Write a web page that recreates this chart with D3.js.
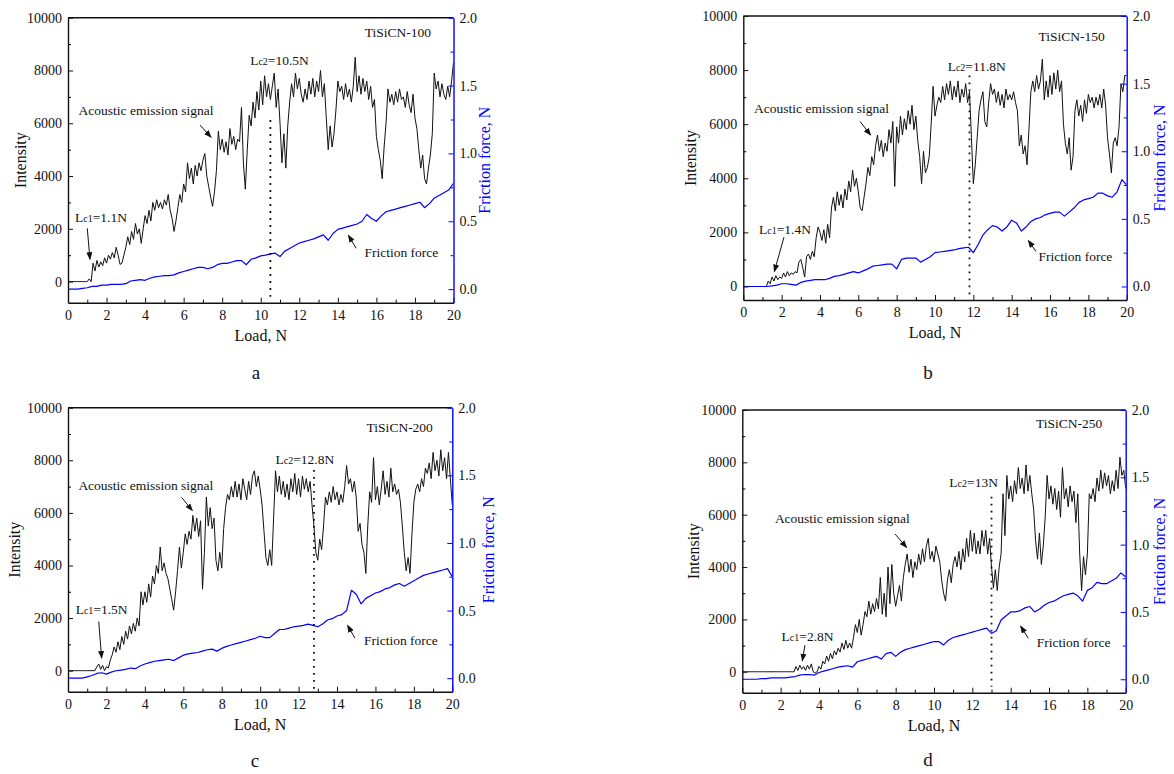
<!DOCTYPE html>
<html>
<head>
<meta charset="utf-8">
<script src="https://cdn.jsdelivr.net/npm/d3@7"></script>
<style>
body { margin: 0; background: #fff; }
svg text { font-family: "Liberation Serif", "Times New Roman", serif; fill: #111; }
</style>
</head>
<body>
<script>
// coating names, panel letters, critical loads
var panelNames = ['TiSiCN-100', 'TiSiCN-150', 'TiSiCN-200', 'TiSiCN-250']
var panelLetters = ['a', 'b', 'c', 'd']
var lc1Values = [1.1, 1.4, 1.5, 2.8]
var lc2Values = [10.5, 11.8, 12.8, 13]
var intensityMin = [-800, -500, -800, -800]

var loadTicks = [0, 2, 4, 6, 8, 10, 12, 14, 16, 18, 20]
var loadMinor = [1, 3, 5, 7, 9, 11, 13, 15, 17, 19]
var intensityTicks = [0, 2000, 4000, 6000, 8000, 10000]
var intensityMinor = [1000, 3000, 5000, 7000, 9000]
var frictionTicks = [0, 0.5, 1.0, 1.5, 2.0]
var frictionMinor = [0.25, 0.75, 1.25, 1.75]

// acoustic emission intensity, one value every 0.1 N from 0 to 20 N
var aeStep = 0.1
var aeA = [0,0,0,0,0,0,0,0,0,0,0,
  100,0,700,400,800,550,750,600,900,700,
  1000,850,1100,900,1300,1000,650,700,1000,1300,
  1700,1400,1900,1600,2200,1800,2000,1450,2000,2500,
  2200,2700,2300,3000,2700,3100,2800,3000,2750,3100,
  2900,3300,2700,2400,1900,2300,2800,3300,3000,3700,
  3400,4500,3900,4300,3700,4400,4000,4500,4200,4600,
  4850,4000,3600,3200,2850,3400,4200,5700,5000,5400,
  4900,5300,4800,5800,5200,5500,5000,5400,5300,6600,
  4500,3500,5000,6300,5900,6800,6200,7200,6500,7600,
  6700,7800,7000,7500,6900,7400,7900,6600,7300,6000,
  4500,5600,4300,5900,6800,7500,7000,7900,7300,7700,
  7100,6800,7300,6900,7600,7100,7700,7000,7600,7200,
  8000,7000,7500,6200,5000,5900,5100,5600,6500,7600,
  7200,7400,6900,7500,7000,7300,6800,7400,8500,7200,
  7800,7100,7700,7200,7600,6900,7400,6600,6900,5500,
  5000,4600,3900,5100,6000,7300,6800,7100,6700,7200,
  6800,7300,6900,7000,6600,7200,6700,6400,7100,6200,
  5800,5000,4300,4800,3900,3700,4300,4800,5600,7900,
  7300,7600,7000,7500,7100,6900,7400,7000,7600,8300]
var aeB = [0,0,0,0,0,0,0,0,0,0,0,0,0,
  200,100,350,200,400,250,350,300,
  500,350,550,400,500,450,550,500,900,1000,
  700,350,1100,1200,1000,1300,1100,1800,2200,2000,
  1700,2100,1600,2300,1800,2900,3300,2800,3500,3000,
  3400,2900,3600,3200,3900,3500,4300,3700,4000,3500,
  2900,2800,3300,3800,4400,4100,4800,4500,5200,5600,
  5000,5400,4800,5300,5000,5800,5300,6100,3700,5900,
  5300,6300,5600,6200,5800,6500,6000,6700,5800,6300,
  5400,4800,3800,5000,4200,4400,4800,6000,7400,6300,
  6700,7000,6800,7400,6900,7500,7100,7600,6900,7400,
  7000,7600,6800,7300,7000,7500,6800,7200,5500,3800,
  4500,5500,6500,6900,7200,6100,5900,6800,7500,7100,
  7300,6800,7200,6700,7100,6600,7300,6900,7100,6900,
  7200,6800,6500,5200,5600,4900,5200,4500,5800,7200,
  7600,7200,7800,7300,7600,8400,6900,7600,7000,7800,
  7100,7900,7300,8000,7200,7600,6000,5300,4900,5500,
  4300,4800,6500,6900,6300,6700,6100,6900,6400,7100,
  6800,7000,6600,7000,6700,7100,6600,7300,6700,5500,
  4900,4200,5300,5500,5200,5900,7500,7200,7800,7800]
var aeC = [0,0,0,0,0,0,0,0,0,0,0,0,0,0,0,
  150,250,50,200,0,150,
  100,400,600,900,700,1100,800,1300,1000,1500,
  1200,1700,1400,1800,1500,2000,1700,3000,2500,3000,
  2600,3300,2800,3600,3300,4000,3700,4700,3800,4100,
  3700,3500,3100,2700,2300,3000,3800,4700,3900,4500,
  5200,4800,5300,5000,5900,5300,5800,5100,5700,3100,
  4500,6600,5500,6200,5400,5800,4200,3800,4500,3900,
  5400,6200,6700,6500,7000,6600,7200,6600,7100,6500,
  7300,6900,6500,7200,6700,7400,7600,7000,7400,6900,
  6300,5300,4300,4000,4600,4000,5800,7600,6800,7400,
  6700,7200,6600,7100,6500,7300,6800,7500,6700,7300,
  6600,7400,6900,7300,6800,7200,6300,5500,4500,4200,
  5000,4600,5500,6600,6300,6800,6400,7000,6500,6800,
  6300,6700,6400,7000,7800,7100,7300,6800,7200,6600,
  5300,5600,4800,4500,3700,5500,6800,6400,8100,6500,
  7000,6300,6900,7600,6700,7200,6600,7700,6800,7100,
  6700,6900,6400,5500,4500,3800,4300,3700,5200,6400,
  6900,7100,6800,7300,7000,7700,7500,7900,7300,8300,
  7600,8000,7400,8400,7600,8100,7300,8300,7300,6300]
var aeD = [0,0,0,0,0,0,0,0,0,0,0,0,0,0,0,0,0,0,0,0,0,0,0,0,0,0,0,0,
  200,50,250,
  100,200,50,250,100,300,0,-50,0,200,
  100,400,300,600,400,700,500,800,650,900,
  750,1100,850,1200,900,1100,900,1300,1800,1500,
  2000,1400,1800,2300,2100,2700,2200,2600,2300,2800,
  2400,3600,2200,3000,2100,4000,2600,4100,3000,2500,
  2900,3300,2700,3600,4100,4500,3800,4300,3600,4200,
  3900,4500,4100,4700,4200,4800,5100,4300,4600,4200,
  4800,4500,4200,3500,3000,2700,3500,3900,3400,4100,
  4400,4000,4600,3900,4700,4200,5100,4400,5400,4600,
  5300,4500,5000,4500,5400,4800,5400,4500,5100,4000,
  3200,3900,3100,4000,4500,6800,5200,7500,6600,7100,
  6500,7300,6800,7800,7000,7400,6800,7900,6900,7500,
  6800,6200,5000,4300,5300,4100,4800,5900,7500,6600,
  7100,6400,7000,6200,6900,5900,7800,6600,7000,6300,
  7100,6500,6900,5700,6800,4500,3100,4400,3700,4500,
  6800,6600,7000,6500,7400,6900,7700,7000,7600,7100,
  7500,6800,7300,6900,7700,7000,8200,7500,7700,7000]

// friction force (N), one value every 0.25 N from 0 to 20 N
var ffStep = 0.25
var ffA = [0,0,0,0.005,0.01,0.02,0.02,0.03,0.03,0.035,0.035,0.035,0.04,
  0.06,0.065,0.07,0.065,0.08,0.09,0.095,0.1,0.1,0.105,0.12,0.13,
  0.14,0.15,0.16,0.16,0.15,0.16,0.18,0.19,0.19,0.2,0.21,0.21,
  0.18,0.22,0.23,0.245,0.25,0.26,0.265,0.24,0.28,0.3,0.32,0.34,
  0.35,0.36,0.37,0.385,0.4,0.36,0.41,0.44,0.45,0.46,0.47,0.48,
  0.5,0.55,0.52,0.5,0.54,0.57,0.58,0.59,0.6,0.61,0.62,0.63,
  0.64,0.6,0.63,0.67,0.69,0.71,0.73,0.78]
var ffB = [0,0,0,0,0,0,0.005,0.01,0.02,0.02,0.015,0.01,0.03,
  0.04,0.045,0.05,0.05,0.05,0.06,0.075,0.08,0.09,0.1,0.11,0.1,
  0.115,0.13,0.15,0.155,0.16,0.165,0.165,0.13,0.2,0.21,0.21,0.21,
  0.18,0.2,0.22,0.25,0.255,0.26,0.265,0.27,0.28,0.285,0.29,0.25,
  0.31,0.38,0.42,0.45,0.44,0.41,0.44,0.49,0.47,0.41,0.44,0.48,
  0.5,0.51,0.53,0.54,0.55,0.55,0.52,0.55,0.58,0.62,0.64,0.65,
  0.66,0.69,0.69,0.67,0.66,0.7,0.79,0.75]
var ffC = [0,0,0,0,0.01,0.02,0.035,0.04,0.03,0.045,0.055,0.06,0.065,
  0.075,0.07,0.09,0.105,0.115,0.125,0.13,0.135,0.14,0.13,0.15,0.17,
  0.18,0.185,0.19,0.2,0.21,0.215,0.2,0.22,0.235,0.245,0.255,0.265,
  0.275,0.285,0.295,0.31,0.3,0.3,0.33,0.36,0.36,0.37,0.38,0.385,
  0.39,0.4,0.39,0.38,0.4,0.43,0.44,0.46,0.47,0.5,0.65,0.62,
  0.55,0.59,0.61,0.63,0.64,0.66,0.67,0.69,0.7,0.68,0.7,0.72,
  0.74,0.76,0.77,0.78,0.79,0.8,0.81,0.75]
var ffD = [0,0,0,0,0.005,0.005,0.01,0.01,0.01,0.01,0.015,0.02,0.03,
  0.035,0.035,0.03,0.05,0.06,0.07,0.08,0.09,0.095,0.1,0.09,0.13,
  0.14,0.15,0.16,0.17,0.15,0.19,0.2,0.17,0.2,0.22,0.23,0.24,
  0.25,0.26,0.27,0.28,0.28,0.255,0.29,0.31,0.32,0.33,0.34,0.35,
  0.36,0.37,0.38,0.34,0.36,0.44,0.47,0.5,0.5,0.51,0.53,0.54,
  0.5,0.52,0.55,0.57,0.58,0.6,0.62,0.63,0.64,0.62,0.58,0.66,
  0.68,0.72,0.71,0.71,0.73,0.75,0.79,0.76]

var aeSeries = [aeA, aeB, aeC, aeD]
var ffSeries = [ffA, ffB, ffC, ffD]

// page layout of each panel: plot box [left, top, right, bottom] and where the notes sit (data units)
var layout = [
  {box: [68, 17.7, 453.5, 302.7], letter: [256, 379], ylab: -48, y2lab: 31,
   title: [15.4, 9280], lc2: [9.45, 8200], dots: [6120, -570],
   ae: [0.55, 6310], aeArrow: [[6.85, 5930], [7.42, 5470]],
   lc1: [0.36, 2270], lc1Arrow: [[1.0, 2020], [1.14, 846]],
   ff: [15.38, 947], ffArrow: [[14.95, 1262], [14.55, 1755]]},
  {box: [743.3, 16, 1126.7, 300], letter: [928, 379], ylab: -53, y2lab: 33,
   title: [15.4, 9090], lc2: [10.66, 7980], dots: [7800, -400],
   ae: [0.56, 6430], aeArrow: [[6.09, 6100], [6.64, 5600]],
   lc1: [0.82, 1945], lc1Arrow: [[2.12, 1820], [1.62, 554]],
   ff: [15.4, 924], ffArrow: [[15.27, 1293], [14.87, 1700]]},
  {box: [68, 407.7, 452.3, 691.7], letter: [255, 767], ylab: -54, y2lab: 36,
   title: [15.54, 9090], lc2: [10.8, 7860], dots: [7630, -720],
   ae: [0.54, 6870], aeArrow: [[5.91, 6590], [6.47, 6090]],
   lc1: [0.4, 2165], lc1Arrow: [[1.6, 1870], [1.75, 480]],
   ff: [15.4, 987], ffArrow: [[14.93, 1240], [14.55, 1720]]},
  {box: [742.3, 410, 1125.7, 692.7], letter: [928, 766], ylab: -49, y2lab: 34,
   title: [15.32, 9300], lc2: [10.8, 7045], dots: [6690, -570],
   ae: [1.7, 5670], aeArrow: [[7.97, 5260], [8.57, 4750]],
   lc1: [2.05, 1185], lc1Arrow: [[3.27, 1020], [3.13, 420]],
   ff: [15.36, 955], ffArrow: [[14.92, 1274], [14.52, 1745]]}
]

var blue = '#0000ff'
var serif = '"Liberation Serif", "Times New Roman", serif'

var svg = d3.select('body').append('svg')
  .attr('width', 1174)
  .attr('height', 774)

svg.append('defs').append('marker')
  .attr('id', 'arrow')
  .attr('markerUnits', 'userSpaceOnUse')
  .attr('markerWidth', 8).attr('markerHeight', 6)
  .attr('refX', 7).attr('refY', 3)
  .attr('orient', 'auto')
  .append('path').attr('d', 'M0,0 L8,3 L0,6 Z').attr('fill', '#111')

function lcText(sel, sub, value) {
  sel.append('tspan').text('L')
  sel.append('tspan').attr('font-size', 10).text('c' + sub)
  sel.append('tspan').text('=' + value + 'N')
}

layout.forEach((p, k) => {
  var [left, top, right, bottom] = p.box
  var x = d3.scaleLinear().domain([0, 20]).range([left, right])
  var y = d3.scaleLinear().domain([intensityMin[k], 10000]).range([bottom, top])
  var y2 = d3.scaleLinear().domain([-0.1, 2.0]).range([bottom, top])

  var g = svg.append('g').attr('class', 'panel-' + panelLetters[k])

  g.append('clipPath').attr('id', 'clip' + k)
    .append('rect')
    .attr('x', left).attr('y', top)
    .attr('width', right - left).attr('height', bottom - top)

  var plot = g.append('g').attr('clip-path', 'url(#clip' + k + ')')

  var aeLine = d3.line()
    .x((d, i) => x(i * aeStep))
    .y(d => y(d))
  var ffLine = d3.line()
    .x((d, i) => x(i * ffStep))
    .y(d => y2(d))

  plot.append('path')
    .attr('d', aeLine(aeSeries[k]))
    .attr('fill', 'none').attr('stroke', '#111').attr('stroke-width', 1)
    .attr('stroke-linejoin', 'round')

  plot.append('path')
    .attr('d', ffLine(ffSeries[k]))
    .attr('fill', 'none').attr('stroke', blue).attr('stroke-width', 1.2)
    .attr('stroke-linejoin', 'round')

  // dotted Lc2 marker
  g.append('line')
    .attr('x1', x(lc2Values[k])).attr('x2', x(lc2Values[k]))
    .attr('y1', y(p.dots[0])).attr('y2', y(p.dots[1]))
    .attr('stroke', '#111').attr('stroke-width', 1.8)
    .attr('stroke-dasharray', '1.8,5.2')

  // frame top
  g.append('line')
    .attr('x1', left).attr('x2', right).attr('y1', top).attr('y2', top)
    .attr('stroke', '#111').attr('stroke-width', 1.4)

  // axes
  var xAxis = g.append('g').attr('transform', `translate(0,${bottom})`)
    .call(d3.axisBottom(x).tickValues(loadTicks).tickSize(-5).tickSizeOuter(0).tickPadding(7))
  g.append('g').attr('transform', `translate(0,${bottom})`)
    .call(d3.axisBottom(x).tickValues(loadMinor).tickSize(-3).tickSizeOuter(0).tickFormat(''))
    .select('.domain').remove()

  var yAxis = g.append('g').attr('transform', `translate(${left},0)`)
    .call(d3.axisLeft(y).tickValues(intensityTicks).tickSize(-5).tickSizeOuter(0).tickPadding(6).tickFormat(d3.format('d')))
  g.append('g').attr('transform', `translate(${left},0)`)
    .call(d3.axisLeft(y).tickValues(intensityMinor).tickSize(-3).tickSizeOuter(0).tickFormat(''))
    .select('.domain').remove()

  var y2Axis = g.append('g').attr('transform', `translate(${right},0)`)
    .call(d3.axisRight(y2).tickValues(frictionTicks).tickSize(-5).tickSizeOuter(0).tickPadding(6).tickFormat(d3.format('.1f')))
  var y2Minor = g.append('g').attr('transform', `translate(${right},0)`)
    .call(d3.axisRight(y2).tickValues(frictionMinor).tickSize(-3).tickSizeOuter(0).tickFormat(''))
  y2Minor.select('.domain').remove()

  g.selectAll('.domain').attr('stroke-width', 1.4)
  ;[xAxis, yAxis].forEach(a => {
    a.attr('font-family', serif)
    a.selectAll('path, line').attr('stroke', '#111')
  })
  y2Axis.attr('font-family', serif)
  y2Axis.selectAll('path, line').attr('stroke', blue)
  y2Minor.selectAll('line').attr('stroke', blue)
  g.selectAll('.tick text').attr('font-size', 14).attr('fill', '#111')

  // axis titles
  g.append('text')
    .attr('x', (left + right) / 2).attr('y', bottom + 38)
    .attr('text-anchor', 'middle').attr('font-size', 16)
    .text('Load, N')
  g.append('text')
    .attr('transform', `translate(${left + p.ylab + 5.5},${(top + bottom) / 2}) rotate(-90)`)
    .attr('text-anchor', 'middle').attr('font-size', 16)
    .text('Intensity')
  g.append('text')
    .attr('transform', `translate(${right + p.y2lab + 5.5},${(top + bottom) / 2}) rotate(-90)`)
    .attr('text-anchor', 'middle').attr('font-size', 16)
    .style('fill', blue)
    .text('Friction force, N')

  // notes
  g.append('text')
    .attr('x', x(p.title[0])).attr('y', y(p.title[1]))
    .attr('font-size', 13.5).text(panelNames[k])
  g.append('text')
    .attr('x', x(p.lc2[0])).attr('y', y(p.lc2[1]))
    .attr('font-size', 13.5).call(lcText, 2, lc2Values[k])
  g.append('text')
    .attr('x', x(p.lc1[0])).attr('y', y(p.lc1[1]))
    .attr('font-size', 13.5).call(lcText, 1, lc1Values[k])
  g.append('text')
    .attr('x', x(p.ae[0])).attr('y', y(p.ae[1]))
    .attr('font-size', 13.5).text('Acoustic emission signal')
  g.append('text')
    .attr('x', x(p.ff[0])).attr('y', y(p.ff[1]))
    .attr('font-size', 13.5).text('Friction force')

  ;[p.aeArrow, p.lc1Arrow, p.ffArrow].forEach(a => {
    g.append('line')
      .attr('x1', x(a[0][0])).attr('y1', y(a[0][1]))
      .attr('x2', x(a[1][0])).attr('y2', y(a[1][1]))
      .attr('stroke', '#111').attr('stroke-width', 1)
      .attr('marker-end', 'url(#arrow)')
  })

  svg.append('text')
    .attr('x', p.letter[0]).attr('y', p.letter[1])
    .attr('text-anchor', 'middle').attr('font-size', 19)
    .text(panelLetters[k])
})
</script>
</body>
</html>
